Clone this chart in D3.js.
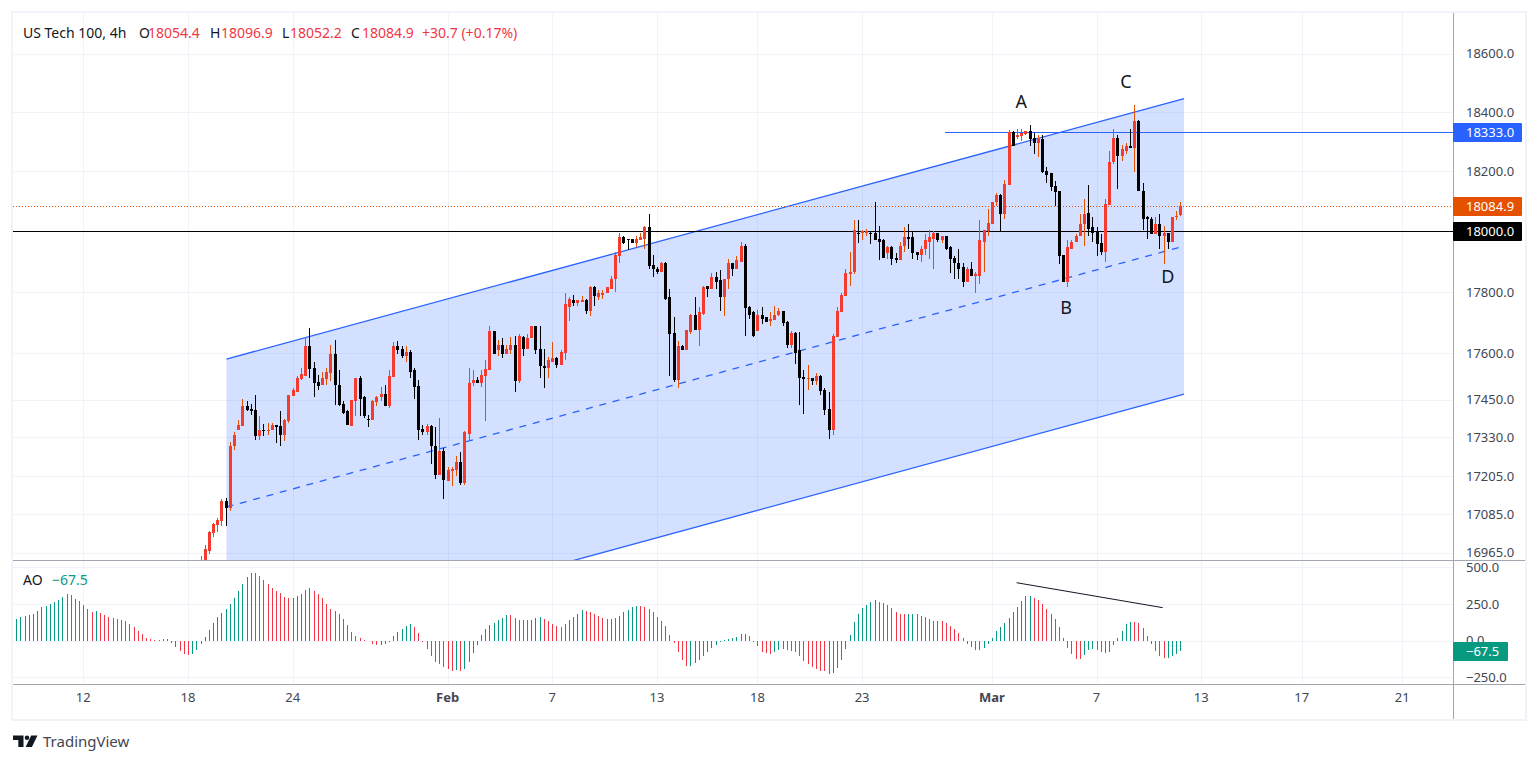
<!DOCTYPE html>
<html>
<head>
<meta charset="utf-8">
<title>US Tech 100, 4h</title>
<script src="https://cdn.jsdelivr.net/npm/d3@7"></script>
<style>
  body { margin: 0; background: #fff; }
  svg { display: block; }
  text { font-family: "Noto Sans", "Open Sans", sans-serif; }
</style>
</head>
<body>
<div id="chart"></div>
<script>
// Bar numbers of the first drawn candle and of the date ticks (future bars included)
var firstCandle = 44;
var lastBar = 278;
var dateTicks = [16, 41, 66, 103, 128, 153, 177, 202, 233, 258, 283, 307, 331];
var dateLabels = ["12", "18", "24", "Feb", "7", "13", "18", "23", "Mar", "7", "13", "17", "21"];
var boldDates = ["Feb", "Mar"];

// Price axis
var priceTicks = [18600, 18400, 18200, 18000, 17800, 17600, 17450, 17330, 17205, 17085, 16965];
var aoTicks = [500, 250, 0, -250];

// Candles, from firstCandle to the last bar
var opens = [
  16900,16930,16971,17025,17050,17063,17126,17104,17300,17351,17364,17431,17421,17418,17332,17354,17351,17351,
  17367,17364,17338,17380,17463,17476,17518,17527,17625,17553,17508,17498,17518,17537,17599,17498,17437,17415,
  17364,17447,17521,17460,17389,17383,17441,17457,17469,17431,17524,17625,17615,17592,17605,17544,17495,17357,
  17345,17364,17303,17208,17287,17189,17221,17224,17249,17183,17341,17502,17514,17502,17527,17547,17673,17609,
  17628,17599,17612,17628,17511,17654,17615,17648,17687,17615,17560,17553,17573,17586,17563,17602,17752,17775,
  17765,17768,17775,17736,17815,17785,17791,17795,17811,17841,17917,17980,17973,17973,17960,17970,17976,18013,
  17887,17877,17864,17894,17782,17667,17514,17625,17612,17670,17723,17677,17729,17818,17808,17848,17838,17782,
  17841,17894,17877,17900,17953,17749,17733,17673,
  17726,17717,17704,17707,17723,17736,17700,17628,17667,17609,17524,17518,17521,17511,17527,17482,17421,17354,
  17654,17733,17788,17858,17864,17996,17993,17996,17996,17993,17973,17970,17927,17947,17913,17904,17950,17980,
  17980,17930,17920,17940,17966,17976,17993,17970,17983,17947,17913,17894,17881,17831,17874,17851,17854,17966,
  18000,18026,18096,18122,
  18059,18156,18333,18316,18320,18326,18336,18313,18297,18310,18203,18193,18152,18135,17923,17834,17943,17963,
  17983,18023,18062,18013,18000,17960,17930,18089,18230,18313,18253,18270,18287,18280,18371,18135,18046,18042,
  17990,18026,17983,17996,17966,18046,18054.4
];
var highs = [
  16955,16987,17031,17056,17072,17132,17135,17313,17345,17383,17453,17444,17437,17466,17399,17373,17376,17376,
  17370,17415,17389,17466,17486,17527,17553,17654,17681,17573,17530,17540,17553,17628,17644,17544,17444,17418,
  17450,17521,17527,17463,17402,17450,17463,17492,17498,17544,17635,17641,17622,17625,17609,17553,17514,17370,
  17373,17370,17361,17392,17294,17236,17236,17268,17281,17348,17553,17544,17524,17544,17577,17687,17673,17644,
  17648,17628,17654,17657,17664,17657,17661,17690,17690,17690,17615,17589,17638,17589,17612,17798,17782,17791,
  17775,17788,17778,17821,17821,17805,17805,17815,17851,17930,17996,17983,17976,17976,17983,17996,18019,18056,
  17920,17881,17900,17900,17808,17717,17641,17628,17677,17729,17782,17749,17821,17818,17861,17864,17871,17844,
  17907,17894,17917,17966,17957,17755,17739,17742,
  17752,17717,17733,17755,17746,17736,17704,17673,17670,17670,17547,17563,17521,17537,17530,17489,17473,17661,
  17752,17795,17877,17930,18039,18036,18006,18009,18000,18099,18019,17976,17953,17950,17927,17966,18013,18023,
  18000,17933,17950,17990,18006,18000,17996,17983,17983,17950,17917,17940,17894,17881,17897,17864,18036,18006,
  18075,18099,18129,18125,
  18172,18340,18336,18343,18343,18336,18356,18330,18323,18323,18216,18193,18169,18135,17923,17970,17970,17990,
  18059,18109,18156,18046,18013,17990,18109,18267,18343,18323,18290,18297,18343,18425,18375,18162,18052,18049,
  18049,18056,18019,17996,18049,18066,18096.9
];
var lows = [
  16890,16920,16960,17012,17028,17047,17047,17094,17290,17351,17364,17412,17402,17322,17319,17332,17338,17351,
  17310,17300,17316,17376,17463,17476,17514,17527,17521,17460,17482,17498,17498,17511,17434,17428,17405,17367,
  17364,17399,17399,17392,17361,17383,17431,17444,17431,17424,17524,17596,17583,17570,17521,17453,17319,17335,
  17335,17243,17195,17208,17132,17189,17173,17205,17179,17176,17319,17495,17502,17492,17380,17547,17596,17592,
  17586,17599,17596,17476,17505,17592,17615,17648,17599,17521,17486,17521,17570,17553,17563,17579,17704,17755,
  17755,17768,17729,17720,17755,17775,17778,17795,17811,17801,17894,17957,17937,17960,17947,17970,17943,17874,
  17848,17858,17864,17775,17527,17508,17486,17609,17612,17664,17677,17625,17723,17782,17808,17808,17736,17720,
  17811,17851,17877,17900,17657,17710,17654,17673,
  17694,17700,17687,17707,17720,17690,17618,17618,17566,17434,17405,17482,17498,17498,17466,17402,17325,17335,
  17654,17733,17788,17818,17858,17960,17970,17983,17957,17970,17904,17913,17907,17887,17894,17904,17933,17943,
  17910,17904,17897,17920,17907,17877,17966,17960,17937,17861,17844,17844,17815,17831,17851,17795,17825,17867,
  17986,18026,18085,18000,
  18042,18156,18284,18310,18303,18323,18287,18260,18247,18196,18162,18135,18085,17891,17831,17815,17943,17963,
  17983,17950,17986,17966,17917,17923,17900,18089,18226,18142,18236,18257,18280,18199,18135,18006,17973,17990,
  17990,17943,17891,17940,17966,18036,18052.2
];
var closes = [
  16935,16975,17028,17053,17066,17126,17104,17303,17338,17367,17431,17418,17415,17332,17354,17351,17354,17367,
  17361,17338,17383,17466,17482,17521,17534,17625,17550,17505,17495,17521,17540,17599,17498,17434,17408,17367,
  17450,17521,17453,17399,17383,17444,17460,17469,17431,17527,17625,17612,17592,17605,17540,17492,17354,17345,
  17364,17300,17208,17287,17192,17224,17227,17249,17183,17345,17505,17514,17505,17530,17550,17673,17596,17628,
  17599,17615,17628,17511,17657,17615,17651,17687,17612,17557,17553,17577,17586,17563,17605,17759,17778,17765,
  17772,17772,17736,17815,17788,17795,17798,17815,17844,17920,17980,17960,17970,17960,17973,17980,18013,17884,
  17874,17864,17894,17778,17664,17514,17625,17612,17677,17723,17677,17733,17815,17808,17848,17834,17782,17844,
  17894,17877,17904,17953,17746,17726,17657,17726,
  17713,17700,17710,17726,17736,17697,17628,17667,17602,17521,17518,17521,17511,17527,17479,17418,17354,17657,
  17736,17791,17861,17867,18003,17993,18000,18000,17990,17970,17966,17913,17947,17910,17904,17953,17980,17976,
  17927,17920,17943,17970,17980,17993,17970,17983,17943,17910,17894,17877,17834,17874,17851,17858,17970,18003,
  18029,18099,18122,18059,
  18159,18333,18287,18323,18330,18336,18310,18297,18310,18199,18189,18149,18132,17917,17834,17947,17966,17986,
  18026,18059,18009,17996,17957,17930,18092,18233,18313,18253,18277,18287,18280,18371,18135,18042,18042,17990,
  18026,17983,17996,17963,18049,18052,18084.9
];

// Awesome Oscillator, one value per bar from bar 0
var aoValues = [
  148,161,168,175,182,202,229,238,252,266,277,297,318,311,284,270,243,216,195,202,188,175,161,154,148,141,134,113,93,66,
  45,18,11,4,6,9,10,-16,-43,-70,-91,-98,-91,-64,-23,25,73,120,161,188,216,250,291,338,386,434,461,460,440,413,
  386,359,338,325,297,291,292,304,318,345,359,338,318,291,250,216,202,182,148,107,59,32,18,5,-5,-20,-27,-28,-25,-9,
  30,60,79,100,113,93,52,-9,-57,-104,-143,-159,-179,-193,-207,-200,-207,-193,-145,-84,-30,39,79,107,120,141,154,175,174,154,
  143,141,140,142,154,161,148,134,113,100,93,113,141,161,182,209,202,195,182,168,154,148,149,154,168,195,209,229,236,235,
  229,216,195,161,134,100,39,-16,-77,-132,-173,-172,-152,-132,-104,-77,-50,-30,-9,5,11,18,25,45,46,32,-9,-36,-77,-84,
  -91,-77,-64,-57,-64,-68,-77,-104,-136,-159,-179,-193,-204,-207,-227,-220,-186,-132,-57,39,127,182,222,243,263,277,263,256,243,222,
  195,182,181,182,183,182,168,161,148,134,135,134,120,100,79,52,18,-20,-43,-64,-63,-50,-23,18,64,93,120,154,195,229,
  270,304,305,291,277,250,216,182,148,93,18,-50,-91,-125,-126,-98,-64,-57,-64,-77,-84,-77,-30,18,66,114,127,126,120,86,
  32,-23,-70,-104,-118,-117,-104,-91,-67.5
];

// Channel drawn on the price pane: [bar, price] at both ends
var channelTop = [[50.2, 17581], [278.9, 18446]];
var channelMiddle = [[50.2, 17108], [278.9, 17951]];
var channelBottom = [[50.2, 16647], [278.9, 17468]];
var resistanceLine = [[221.8, 18333], [345, 18333]];
var supportLevel = 18000;
var lastPrice = 18084.9;
var lastAo = -67.5;
var aoTrendLine = [[238.9, 395], [273.8, 225]];

// Wave labels: [label, bar, price]
var waveLabels = [["A", 240.0, 18438], ["B", 250.7, 17750], ["C", 265.0, 18506], ["D", 275.0, 17853]];

// Legend of the price pane
var legendParts = [
  ["US Tech 100, 4h", 23, "#131722"], ["O", 139, "#131722"], ["18054.4", 148, "#F23645"],
  ["H", 210, "#131722"], ["18096.9", 221, "#F23645"], ["L", 282, "#131722"], ["18052.2", 290, "#F23645"],
  ["C", 351, "#131722"], ["18084.9", 362, "#F23645"], ["+30.7 (+0.17%)", 422, "#F23645"]
];

// Colors
var GRID = "#F0F3FA", BORDER = "#A3A6AF", AXIS_TEXT = "#434651";
var UP = "#F43B2E", UP_WICK = "#E65100", DOWN = "#000000";
var BLUE = "#2962FF", AO_UP = "#089981", AO_DOWN = "#F23645";

// Panes
var paneLeft = 13, paneRight = 1453, frameRight = 1525;
var paneTop = 13, priceBottom = 560, aoBottom = 684, frameBottom = 719;

var svg = d3.select("#chart").append("svg")
    .attr("width", 1538)
    .attr("height", 763);

var x = d3.scaleLinear().domain([0, lastBar]).range([16.3, 1180.3]);
var y = d3.scaleLog().domain([16965, 18600]).range([552.5, 53.5]);
var yAo = d3.scaleLinear().domain([-250, 500]).range([677.4, 567.3]);

svg.append("clipPath").attr("id", "priceClip").append("rect")
    .attr("x", paneLeft).attr("y", paneTop)
    .attr("width", paneRight - paneLeft).attr("height", priceBottom - paneTop);

function px(i) { return Math.round(x(i)); }

// Grid
var grid = svg.append("g").attr("stroke", GRID).attr("shape-rendering", "crispEdges");
grid.selectAll(".v").data(dateTicks).enter().append("line")
    .attr("x1", function (d) { return px(d) + 0.5; })
    .attr("x2", function (d) { return px(d) + 0.5; })
    .attr("y1", paneTop).attr("y2", aoBottom);
grid.selectAll(".h").data(priceTicks).enter().append("line")
    .attr("x1", paneLeft).attr("x2", paneRight)
    .attr("y1", function (d) { return Math.round(y(d)) + 0.5; })
    .attr("y2", function (d) { return Math.round(y(d)) + 0.5; });
grid.selectAll(".a").data(aoTicks).enter().append("line")
    .attr("x1", paneLeft).attr("x2", paneRight)
    .attr("y1", function (d) { return Math.round(yAo(d)) + 0.5; })
    .attr("y2", function (d) { return Math.round(yAo(d)) + 0.5; });

// Channel and levels, under the candles
var drawings = svg.append("g").attr("clip-path", "url(#priceClip)");
var line = d3.line()
    .x(function (d) { return x(d[0]); })
    .y(function (d) { return y(d[1]); });

drawings.append("path")
    .attr("d", line(channelTop.concat(channelBottom.slice().reverse())) + "Z")
    .attr("fill", BLUE).attr("fill-opacity", 0.2);
drawings.append("path").attr("d", line(channelTop)).attr("fill", "none").attr("stroke", BLUE).attr("stroke-width", 1.3);
drawings.append("path").attr("d", line(channelBottom)).attr("fill", "none").attr("stroke", BLUE).attr("stroke-width", 1.3);
drawings.append("path").attr("d", line(channelMiddle)).attr("fill", "none").attr("stroke", BLUE)
    .attr("stroke-width", 1.3)
    .attr("stroke-dasharray", "7 6.8");

drawings.append("line")
    .attr("x1", paneLeft).attr("x2", paneRight)
    .attr("y1", Math.round(y(lastPrice)) + 0.5).attr("y2", Math.round(y(lastPrice)) + 0.5)
    .attr("stroke", UP_WICK).attr("stroke-dasharray", "1 2");
drawings.append("line")
    .attr("x1", x(resistanceLine[0][0])).attr("x2", paneRight)
    .attr("y1", Math.round(y(resistanceLine[0][1])) + 0.5).attr("y2", Math.round(y(resistanceLine[1][1])) + 0.5)
    .attr("stroke", BLUE);
drawings.append("line")
    .attr("x1", paneLeft).attr("x2", paneRight)
    .attr("y1", Math.round(y(supportLevel)) + 0.5).attr("y2", Math.round(y(supportLevel)) + 0.5)
    .attr("stroke", "#000");

// Candles
var candles = opens.map(function (o, i) {
  return { bar: firstCandle + i, open: o, high: highs[i], low: lows[i], close: closes[i] };
});

var candle = svg.append("g")
    .attr("clip-path", "url(#priceClip)")
    .attr("shape-rendering", "crispEdges")
    .selectAll("g").data(candles).enter().append("g");

candle.append("rect")
    .attr("x", function (d) { return px(d.bar); })
    .attr("width", 1)
    .attr("y", function (d) { return y(d.high); })
    .attr("height", function (d) { return y(d.low) - y(d.high); })
    .attr("fill", function (d) { return d.close >= d.open ? UP_WICK : DOWN; });

candle.append("rect")
    .attr("x", function (d) { return px(d.bar) - 1; })
    .attr("width", 3)
    .attr("y", function (d) { return y(Math.max(d.open, d.close)); })
    .attr("height", function (d) { return Math.max(1, Math.abs(y(d.open) - y(d.close))); })
    .attr("fill", function (d) { return d.close >= d.open ? UP : DOWN; });

// Wave labels
svg.append("g").selectAll("text").data(waveLabels).enter().append("text")
    .attr("x", function (d) { return x(d[1]); })
    .attr("y", function (d) { return y(d[2]); })
    .attr("text-anchor", "middle")
    .attr("dominant-baseline", "central")
    .attr("font-size", 18)
    .attr("fill", "#131722")
    .text(function (d) { return d[0]; });

// Awesome Oscillator columns
svg.append("g").attr("shape-rendering", "crispEdges")
    .selectAll("rect").data(aoValues).enter().append("rect")
    .attr("x", function (d, i) { return px(i); })
    .attr("width", 1)
    .attr("y", function (d) { return Math.min(yAo(d), yAo(0)); })
    .attr("height", function (d) { return Math.abs(yAo(d) - yAo(0)); })
    .attr("fill", function (d, i) { return i === 0 || d >= aoValues[i - 1] ? AO_UP : AO_DOWN; });

svg.append("line")
    .attr("x1", x(aoTrendLine[0][0])).attr("y1", yAo(aoTrendLine[0][1]))
    .attr("x2", x(aoTrendLine[1][0])).attr("y2", yAo(aoTrendLine[1][1]))
    .attr("stroke", "#131722");

// Frame and pane borders
svg.append("rect")
    .attr("x", paneLeft - 1).attr("y", paneTop - 1)
    .attr("width", frameRight - paneLeft + 2).attr("height", frameBottom - paneTop + 2)
    .attr("fill", "none").attr("stroke", GRID).attr("stroke-width", 2);

var borders = svg.append("g").attr("stroke", BORDER).attr("shape-rendering", "crispEdges");
borders.append("line").attr("x1", paneLeft).attr("x2", frameRight).attr("y1", priceBottom + 0.5).attr("y2", priceBottom + 0.5);
borders.append("line").attr("x1", paneLeft).attr("x2", frameRight).attr("y1", aoBottom + 0.5).attr("y2", aoBottom + 0.5);
borders.append("line").attr("x1", paneRight + 0.5).attr("x2", paneRight + 0.5).attr("y1", paneTop).attr("y2", frameBottom);

// Axes
function styleAxis(g) {
  g.select(".domain").remove();
  g.selectAll("text")
      .attr("font-family", null)
      .attr("font-size", 13)
      .attr("fill", AXIS_TEXT);
}

svg.append("g")
    .attr("transform", "translate(1453,0)")
    .call(d3.axisRight(y).tickValues(priceTicks).tickFormat(d3.format(".1f")).tickSize(0).tickPadding(13))
    .call(styleAxis);

svg.append("g")
    .attr("transform", "translate(1453,0)")
    .call(d3.axisRight(yAo).tickValues(aoTicks).tickFormat(d3.format(".1f")).tickSize(0).tickPadding(13))
    .call(styleAxis);

svg.append("g")
    .attr("transform", "translate(-0.5,684)")
    .call(d3.axisBottom(x).tickValues(dateTicks)
        .tickFormat(function (d, i) { return dateLabels[i]; })
        .tickSize(0).tickPadding(9))
    .call(styleAxis)
    .selectAll("text")
    .attr("font-weight", function (d, i) { return boldDates.indexOf(dateLabels[i]) >= 0 ? "bold" : null; });

// Price tags on the right axis
var priceTags = [
  { value: lastPrice, scale: y, label: "18084.9", color: UP_WICK, width: 69 },
  { value: resistanceLine[0][1], scale: y, label: "18333.0", color: BLUE, width: 69 },
  { value: supportLevel, scale: y, label: "18000.0", color: "#000", width: 69 },
  { value: lastAo, scale: yAo, label: "\u221267.5", color: AO_UP, width: 55 }
];

var tag = svg.append("g").selectAll("g").data(priceTags).enter().append("g")
    .attr("transform", function (d) { return "translate(1453," + Math.round(d.scale(d.value)) + ")"; });

tag.append("rect")
    .attr("y", -9).attr("height", 19)
    .attr("width", function (d) { return d.width; })
    .attr("rx", 1)
    .attr("fill", function (d) { return d.color; });

tag.append("text")
    .attr("x", 13)
    .attr("y", 0.5)
    .attr("dy", "0.35em")
    .attr("font-size", 13)
    .attr("fill", "#fff")
    .text(function (d) { return d.label; });

// Legends
svg.append("g").selectAll("text").data(legendParts).enter().append("text")
    .attr("x", function (d) { return d[1]; })
    .attr("y", 33)
    .attr("dy", "0.35em")
    .attr("font-size", 14)
    .attr("fill", function (d) { return d[2]; })
    .text(function (d) { return d[0]; });

svg.append("text").attr("x", 23).attr("y", 580).attr("dy", "0.35em")
    .attr("font-size", 14).attr("fill", "#131722").text("AO");
svg.append("text").attr("x", 52).attr("y", 580).attr("dy", "0.35em")
    .attr("font-size", 14).attr("fill", AO_UP).text("\u221267.5");

// TradingView mark
var logo = svg.append("g").attr("fill", "#131722");
logo.append("path").attr("d", "M13 735.5h10.5v11.5h-5.2v-7h-5.3z");
logo.append("circle").attr("cx", 27).attr("cy", 737.8).attr("r", 2.3);
logo.append("path").attr("d", "M31.2 735.5h6.3l-5.6 11.5h-6.3z");
svg.append("text").attr("x", 43).attr("y", 741.5).attr("dy", "0.35em")
    .attr("font-size", 15).attr("fill", "#434651").text("TradingView");
</script>
</body>
</html>
